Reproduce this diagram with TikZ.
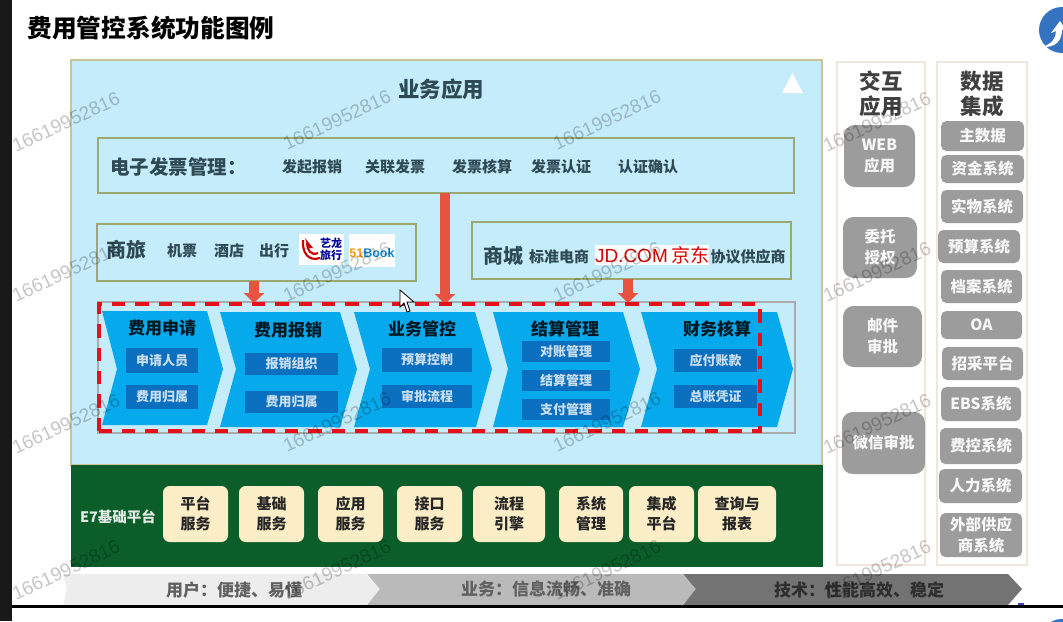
\documentclass[tikz,border=0pt]{standalone}
\usepackage{fontspec}
\setmainfont{Noto Sans CJK SC}
\newfontfamily\latinf{Liberation Sans}
\usetikzlibrary{arrows.meta}
\definecolor{skyb}{HTML}{C5ECFB}
\definecolor{chevb}{HTML}{05A9EC}
\definecolor{subb}{HTML}{0B6FC0}
\definecolor{olive}{HTML}{9BA871}
\definecolor{tanb}{HTML}{C9C596}
\definecolor{inktxt}{HTML}{2E4A55}
\definecolor{gren}{HTML}{0B5E2A}
\definecolor{creme}{HTML}{FBEDC6}
\definecolor{grayb}{HTML}{9C9C9C}
\definecolor{panelb}{HTML}{EFE6DE}
\definecolor{redar}{HTML}{E8533F}
\definecolor{reddash}{HTML}{E5101A}
\definecolor{wmk}{HTML}{C6C6C6}
\newcommand{\px}[1]{\fontsize{\dimexpr#1pt*3/4\relax}{\dimexpr#1pt*9/10\relax}\selectfont}
\newcommand{\pxb}[2]{\fontsize{\dimexpr#1pt*3/4\relax}{\dimexpr#2pt*3/4\relax}\selectfont}
\newcommand{\bx}[7]{\node[#1,minimum width={(#5-#3)*0.75pt},minimum height={(#6-#4)*0.75pt}] (#2) at ({(#3+#5)/2},{(#4+#6)/2}) {#7};}
\newcommand{\wm}[3]{\node[wmark] (#1) at (#2,#3) {16619952816};}
\tikzset{
  x=0.75pt,y=-0.75pt,
  txt/.style={inner sep=0pt,outer sep=0pt,align=center},
  lab/.style={txt,text=inktxt,font=\px{15}\bfseries},
  outline/.style={draw=olive,line width=1.8pt,fill=none,inner sep=0pt,outer sep=0pt},
  chev/.style={fill=chevb},
  sub/.style={fill=subb,text=white!78!subb,inner sep=0pt,outer sep=0pt,font=\px{13}\bfseries},
  chevtitle/.style={txt,text=black!85!chevb,font=\px{17}\bfseries},
  cream/.style={fill=creme,rounded corners=5pt,inner sep=0pt,outer sep=0pt,text=black!85,align=center,font=\pxb{15}{20}\bfseries},
  gbox/.style={fill=grayb,rounded corners=4pt,inner sep=0pt,outer sep=0pt,text=white!92!grayb,align=center,font=\pxb{15.5}{21}\bfseries},
  panel/.style={draw=panelb,line width=1.2pt,fill=white,inner sep=0pt},
  bigarrow/.style={draw=redar,line width=7.5pt,-{Triangle[length=7.5pt,width=15pt]}},
  wmark/.style={txt,rotate=25,text=wmk,font=\latinf\px{19}},
}
\begin{document}
\begin{tikzpicture}
\useasboundingbox (0,0) rectangle (1063,621);
\fill[white] (0,0) rectangle (1063,621);
% logos at the right edge
\begin{scope}
\clip (0,0) rectangle (1063,621);
\fill[blue!55!cyan!70!black!80] (1062,30) circle (23);
\fill[white] (1042,47) .. controls (1052,44) and (1056,38) .. (1056,31) -- (1051,33) -- (1060,21) -- (1066,30) -- (1062,30) .. controls (1062,40) and (1056,48) .. (1042,47) -- cycle;
\fill[blue!55!cyan!70!black!80] (1062,642) circle (23);
\end{scope}
% title
\node[txt,font=\px{24.7}\bfseries,text=black] (title) at (151,28) {费用管控系统功能图例};
% main panel
\bx{draw=tanb,line width=1.5pt,fill=skyb,inner sep=0pt}{main}{71}{60}{822}{465}{}
\bx{fill=gren,inner sep=0pt}{base}{71}{465}{823}{567}{}
\fill[white] (782,93) -- (792.5,73) -- (803,93) -- cycle;
\node[txt,text=inktxt,font=\px{21.5}\bfseries] (app) at (441,89) {业务应用};
% invoice row
\bx{outline}{inv}{98}{138}{794}{193}{}
\node[txt,text=inktxt,font=\px{19.5}\bfseries,anchor=west] (invt) at (110,167) {电子发票管理：};
\node[lab] (i1) at (312,167) {发起报销};
\node[lab] (i2) at (395,167) {关联发票};
\node[lab] (i3) at (482,167) {发票核算};
\node[lab] (i4) at (561,167) {发票认证};
\node[lab] (i5) at (648,167) {认证确认};
% travel
\bx{outline}{trav}{97}{224}{416}{281}{}
\node[txt,text=inktxt,font=\px{20}\bfseries] (tt) at (126,250) {商旅};
\node[lab] (t1) at (182,251) {机票};
\node[lab] (t2) at (229,251) {酒店};
\node[lab] (t3) at (274,251) {出行};
\bx{fill=white,inner sep=0pt}{logoa}{299}{234}{344}{265}{}
\draw[red!80!black,line width=1.6pt] (303,240) .. controls (302,252) and (308,262) .. (320,258);
\draw[red!80!black,line width=1.6pt] (307,243) .. controls (307,250) and (311,256) .. (318,253);
\fill[red!80!black] (305,238) -- (313,248) -- (308,248) -- cycle;
\node[txt,text=blue!60!black,font=\pxb{11}{12}\bfseries] (la) at (331,249) {艺龙\\旅行};
\bx{fill=white,inner sep=0pt}{logob}{349}{234}{395}{267}{}
\node[txt,font=\latinf\px{12.5}\bfseries] (lb) at (372,253) {\textcolor{orange!80!yellow}{51}\textcolor{cyan!70!blue}{Book}};
% mall
\bx{outline}{mall}{472}{222}{791}{279}{}
\node[txt,text=inktxt,font=\px{20}\bfseries] (mt) at (503,256) {商城};
\node[lab] (m1) at (559,257) {标准电商};
\bx{fill=white,inner sep=0pt,text=red!85!black,font=\px{19}}{jd}{596}{245}{708}{265}{\latinf JD.COM\,\rmfamily 京东}
\node[lab] (m2) at (748,257) {协议供应商};
% chevrons
\draw[grayb!85,line width=1pt] (98,302) rectangle (795,433);
\fill[chev] (102,311) -- (207,311) -- (223,369) -- (207,425) -- (102,425) -- (117,369) -- cycle;
\fill[chev] (220,312) -- (340,312) -- (357,369) -- (340,427) -- (220,427) -- (236,369) -- cycle;
\fill[chev] (354,312) -- (475,312) -- (492,369) -- (476,427) -- (354,427) -- (370,369) -- cycle;
\fill[chev] (493,312) -- (623,312) -- (640,369) -- (623,427) -- (493,427) -- (508,369) -- cycle;
\fill[chev] (641,312) -- (777,312) -- (793,369) -- (777,427) -- (641,427) -- (657,369) -- cycle;
\node[chevtitle] (c1) at (162,328) {费用申请};
\node[chevtitle] (c2) at (288,330) {费用报销};
\node[chevtitle] (c3) at (422,329) {业务管控};
\node[chevtitle] (c4) at (565,329) {结算管理};
\node[chevtitle] (c5) at (717,329) {财务核算};
\bx{sub}{s11}{126}{348}{198}{373}{申请人员}
\bx{sub}{s12}{126}{385}{198}{409}{费用归属}
\bx{sub}{s21}{245}{353}{338}{375}{报销组织}
\bx{sub}{s22}{245}{391}{338}{413}{费用归属}
\bx{sub}{s31}{382}{348}{472}{372}{预算控制}
\bx{sub}{s32}{382}{385}{472}{408}{审批流程}
\bx{sub}{s41}{522}{341}{610}{362}{对账管理}
\bx{sub}{s42}{522}{370}{610}{391}{结算管理}
\bx{sub}{s43}{522}{399}{610}{420}{支付管理}
\bx{sub}{s51}{674}{349}{757}{372}{应付账款}
\bx{sub}{s52}{674}{385}{757}{408}{总账凭证}
% arrows
\coordinate (ta) at (254,303);
\coordinate (tb) at (445,304);
\coordinate (tc) at (628,303);
\draw[bigarrow] (trav.south -| ta) -- (ta);
\draw[bigarrow] (inv.south -| tb) -- (tb);
\draw[bigarrow] (mall.south -| tc) -- (tc);
% red dashed frame
\draw[reddash,line width=2.6pt,dash pattern=on 10pt off 7.5pt] (99,431) -- (99,304) -- (760,304) -- (760,431) -- cycle;
% cursor
\draw[black,fill=white,line width=.6pt] (400,290) -- (400,307) -- (404,303) -- (407,312) -- (410,311) -- (407,302) -- (414,302) -- cycle;
% platform
\node[txt,text=white!88!gren,font=\px{14.5}\bfseries] (e7) at (118,517) {E7基础平台};
\bx{cream}{p1}{163}{486}{228}{542}{平台\\服务}
\bx{cream}{p2}{239}{486}{304}{542}{基础\\服务}
\bx{cream}{p3}{318}{486}{383}{542}{应用\\服务}
\bx{cream}{p4}{397}{486}{462}{542}{接口\\服务}
\bx{cream}{p5}{473}{486}{545}{542}{流程\\引擎}
\bx{cream}{p6}{559}{486}{623}{542}{系统\\管理}
\bx{cream}{p7}{629}{486}{694}{542}{集成\\平台}
\bx{cream}{p8}{698}{486}{776}{542}{查询与\\报表}
% right panels
\bx{panel}{pa}{837}{62}{925}{565}{}
\bx{panel}{pb}{937}{62}{1027}{565}{}
\node[txt,text=black!75,font=\pxb{21.5}{25}\bfseries] (pat) at (881,94) {交互\\应用};
\node[txt,text=black!75,font=\pxb{21.5}{25}\bfseries] (pbt) at (982,94) {数据\\集成};
\bx{gbox,rounded corners=8pt}{w1}{844}{125}{915}{187}{WEB\\应用}
\bx{gbox,rounded corners=8pt}{w2}{843}{217}{917}{278}{委托\\授权}
\bx{gbox,rounded corners=8pt}{w3}{843}{306}{922}{367}{邮件\\审批}
\bx{gbox,rounded corners=8pt}{w4}{842}{412}{925}{474}{微信审批}
\bx{gbox}{d1}{941}{121}{1024}{151}{主数据}
\bx{gbox}{d2}{941}{155}{1024}{183}{资金系统}
\bx{gbox}{d3}{941}{190}{1023}{223}{实物系统}
\bx{gbox}{d4}{938}{230}{1020}{263}{预算系统}
\bx{gbox}{d5}{941}{270}{1022}{303}{档案系统}
\bx{gbox}{d6}{941}{311}{1022}{339}{OA}
\bx{gbox}{d7}{942}{347}{1023}{380}{招采平台}
\bx{gbox}{d8}{941}{387}{1021}{421}{EBS系统}
\bx{gbox}{d9}{940}{428}{1022}{464}{费控系统}
\bx{gbox}{d10}{939}{469}{1022}{503}{人力系统}
\bx{gbox}{d11}{940}{513}{1022}{557}{外部供应\\商系统}
% bottom band
\fill[black!7] (63,574) -- (365,574) -- (381,589) -- (365,605) -- (63,605) -- (67,589) -- cycle;
\fill[black!27] (367,574) -- (682,574) -- (697,589) -- (682,605) -- (367,605) -- (380,589) -- cycle;
\fill[black!55] (683,574) -- (1008,574) -- (1022,589) -- (1008,605) -- (683,605) -- (696,589) -- cycle;
\node[txt,text=black!62,font=\px{17}\bfseries] (b1) at (234,590) {用户：便捷、易懂};
\node[txt,text=black!62,font=\px{17}\bfseries] (b2) at (546,589) {业务：信息流畅、准确};
\node[txt,text=black!82,font=\px{17}\bfseries] (b3) at (859,590) {技术：性能高效、稳定};
% watermarks
\begin{scope}[blend mode=multiply]
\wm{wa}{66}{122}\wm{wb}{337}{120}\wm{wc}{607}{120}\wm{wd}{877}{122}
\wm{we}{66}{272}\wm{wf}{337}{272}\wm{wg}{607}{272}\wm{wh}{877}{272}
\wm{wi}{66}{424}\wm{wj}{337}{422}\wm{wk}{607}{422}\wm{wl}{877}{424}
\wm{wm}{66}{570}\wm{wn}{337}{570}\wm{wo}{607}{570}\wm{wp}{877}{570}
\end{scope}
% screen frame
\fill[black!90] (0,0) rectangle (12,621);
\fill[black] (12,605) rectangle (1063,608);
\fill[blue!50!gray] (1018,603) rectangle (1024,605);
\end{tikzpicture}
\end{document}
